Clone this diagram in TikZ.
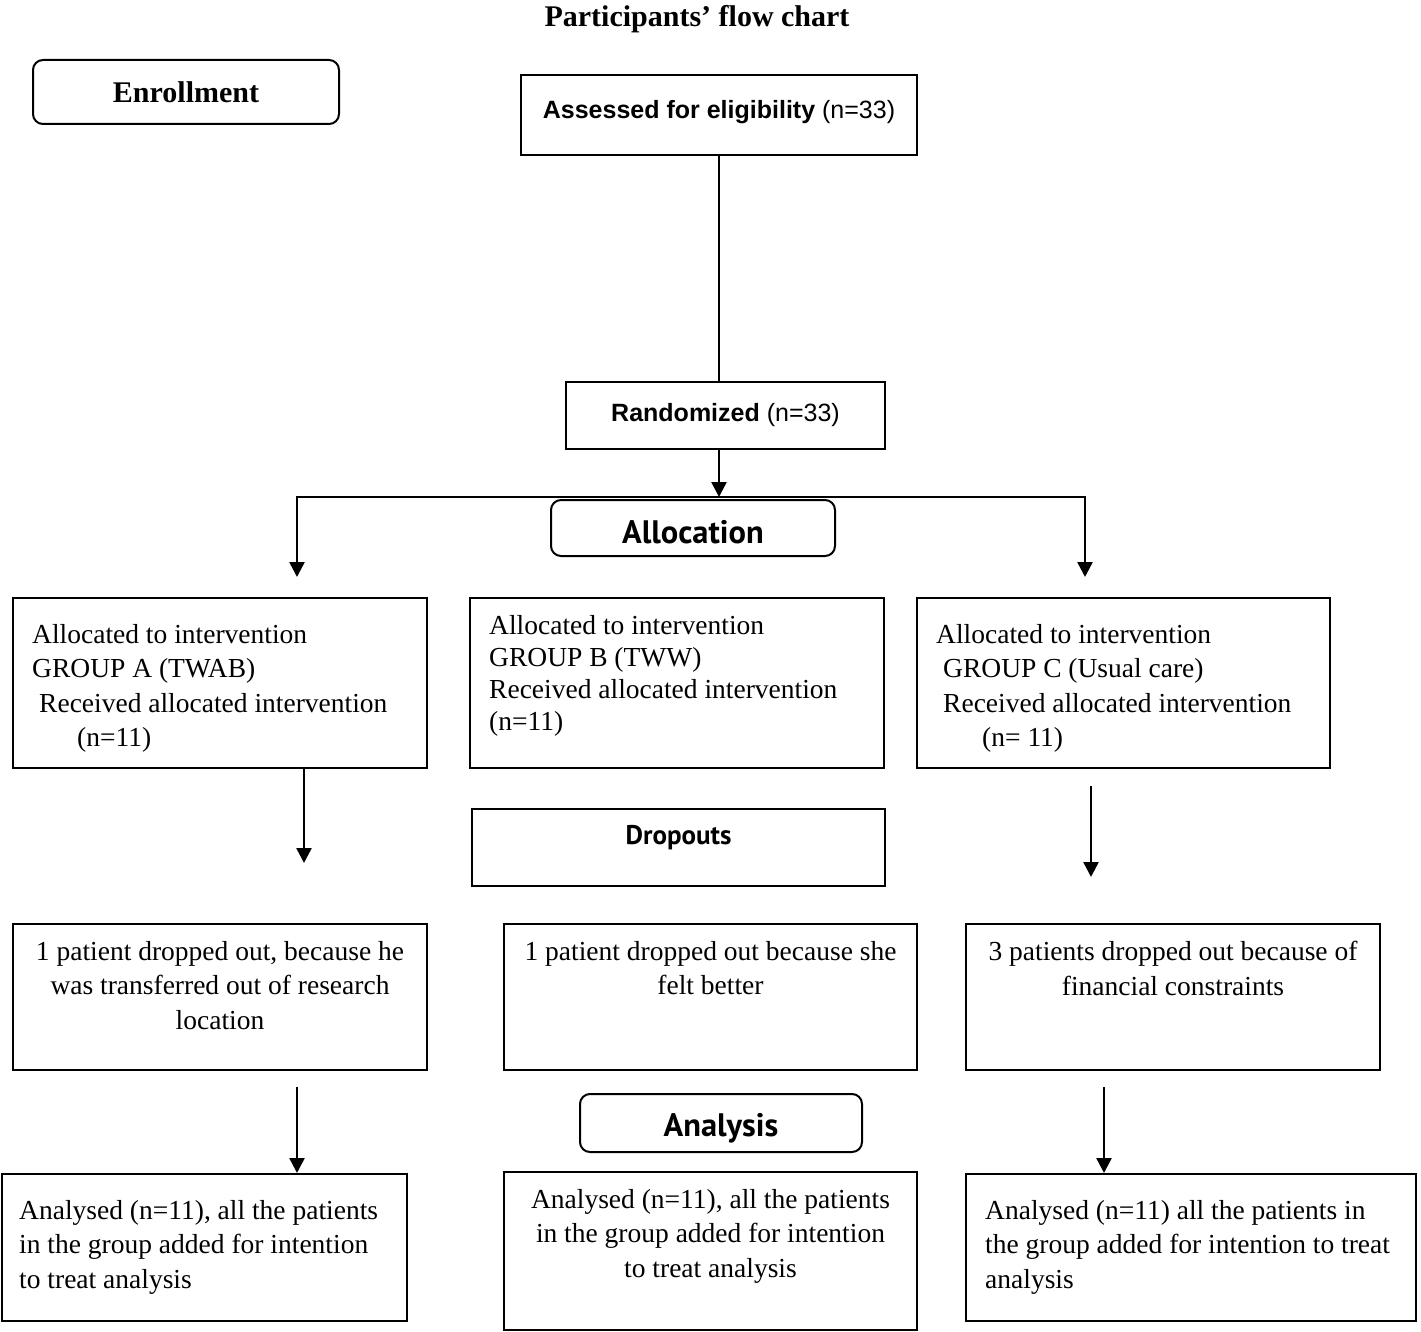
\documentclass[tikz,border=0pt]{standalone}
\usepackage{fontspec}
\setmainfont{Liberation Serif}
\setsansfont{Liberation Sans}
\newfontfamily\headfont{PT Sans}
\usetikzlibrary{arrows.meta,positioning}

\tikzset{
  box/.style={draw, line width=2pt, inner sep=0pt},
  headbox/.style={box, rounded corners=10pt},
  txt/.style={inner sep=0pt, font=\fontsize{27.5}{34.5}\selectfont},
  stagefont/.style={font=\headfont\bfseries\fontsize{32.5}{38}\selectfont},
  link/.style={line width=2.5pt},
  arr/.style={link, -{Triangle[length=15pt,width=15pt]}},
}

\begin{document}
\begin{tikzpicture}[x=1pt,y=-1pt]
\useasboundingbox (0,0) rectangle (1421,1332);

% headings
\node[inner sep=0pt, font=\bfseries\fontsize{30}{36}\selectfont] (title) at (697,19) {Participants’ flow chart};
\node[headbox, minimum width=306, minimum height=64, font=\bfseries\fontsize{30}{36}\selectfont] (enroll) at (186,92) {Enrollment};

% enrollment
\node[box, minimum width=396, minimum height=80, font=\sffamily\fontsize{25}{30}\selectfont] (assess) at (719,115) {};
\node[inner sep=0pt, font=\sffamily\fontsize{25}{30}\selectfont] (assesstxt) at ([yshift=3pt]assess.center) {{\bfseries Assessed for eligibility} (n=33)};
\node[box, minimum width=319, minimum height=67, font=\sffamily\fontsize{25}{30}\selectfont] (rand) at (725.5,415.5) {{\bfseries Randomized} (n=33)};
\node[headbox, minimum width=284, minimum height=56] (alloc) at (693,528) {};
\node[inner sep=0pt, stagefont] (alloctxt) at ([yshift=-4pt]alloc.center) {Allocation};

% allocation boxes
\node[box, minimum width=414, minimum height=170] (grpA) at (220,683) {};
\node[box, minimum width=414, minimum height=170] (grpB) at (677,683) {};
\node[box, minimum width=413, minimum height=170] (grpC) at (1123.5,683) {};
\node[txt, anchor=north west, align=left] (grpAtxt) at ([shift={(20,27)}]grpA.north west)
  {Allocated to intervention\\GROUP A (TWAB)\\\hspace{7pt}Received allocated intervention\\\hspace{45pt}(n=11)};
\node[txt, anchor=north west, align=left, font=\fontsize{27.5}{32}\selectfont] (grpBtxt) at ([shift={(20,18)}]grpB.north west)
  {Allocated to intervention\\GROUP B (TWW)\\Received allocated intervention\\(n=11)};
\node[txt, anchor=north west, align=left] (grpCtxt) at ([shift={(20,27)}]grpC.north west)
  {Allocated to intervention\\\hspace{7pt}GROUP C (Usual care)\\\hspace{7pt}Received allocated intervention\\\hspace{46pt}(n= 11)};

% dropouts
\node[box, minimum width=413, minimum height=77] (drop) at (678.5,847.5) {};
\node[inner sep=0pt, font=\headfont\bfseries\fontsize{27}{32}\selectfont] (droptxt) at ([yshift=10pt]drop.center) {Dropouts};
\node[box, minimum width=414, minimum height=146] (lostA) at (220,997) {};
\node[box, minimum width=413, minimum height=146] (lostB) at (710.5,997) {};
\node[box, minimum width=414, minimum height=146] (lostC) at (1173,997) {};
\node[txt, anchor=north, align=center] (lostAtxt) at ([shift={(0,18)}]lostA.north)
  {1 patient dropped out, because he\\was transferred out of research\\location};
\node[txt, anchor=north, align=center] (lostBtxt) at ([shift={(0,18)}]lostB.north)
  {1 patient dropped out because she\\felt better};
\node[txt, anchor=north, align=center] (lostCtxt) at ([shift={(0,18)}]lostC.north)
  {3 patients dropped out because of\\financial constraints};

% analysis
\node[headbox, minimum width=282, minimum height=58] (analysis) at (721,1123) {};
\node[inner sep=0pt, stagefont] (analysistxt) at ([yshift=-5pt]analysis.center) {Analysis};
\node[box, minimum width=405, minimum height=147] (anaA) at (204.5,1247.5) {};
\node[box, minimum width=413, minimum height=158] (anaB) at (710.5,1251) {};
\node[box, minimum width=450, minimum height=147] (anaC) at (1191,1247.5) {};
\node[txt, anchor=north west, align=left] (anaAtxt) at ([shift={(18,27)}]anaA.north west)
  {Analysed (n=11), all the patients\\in the group added for intention\\to treat analysis};
\node[txt, anchor=north, align=center] (anaBtxt) at ([shift={(0,18)}]anaB.north)
  {Analysed (n=11), all the patients\\in the group added for intention\\to treat analysis};
\node[txt, anchor=north west, align=left] (anaCtxt) at ([shift={(20,27)}]anaC.north west)
  {Analysed (n=11) all the patients in\\the group added for intention to treat\\analysis};

% connectors
\coordinate (split) at (719,497);
\coordinate (tipL) at (297,577);
\coordinate (tipR) at (1085,577);
\coordinate (tipA) at (304,863);
\coordinate (startC) at (1091,786);
\coordinate (tipC) at (1091,877);
\coordinate (startA3) at (297,1087);
\coordinate (startC3) at (1104,1087);

\draw[link] (assess.south) -- (assess.south |- rand.north);
\draw[arr] (rand.south -| split) -- (split);
\draw[arr] (split) -| (tipL);
\draw[arr] (split) -| (tipR);
\draw[arr] (grpA.south -| tipA) -- (tipA);
\draw[arr] (startC) -- (tipC);
\draw[arr] (startA3) -- (startA3 |- anaA.north);
\draw[arr] (startC3) -- (startC3 |- anaC.north);
\end{tikzpicture}
\end{document}
